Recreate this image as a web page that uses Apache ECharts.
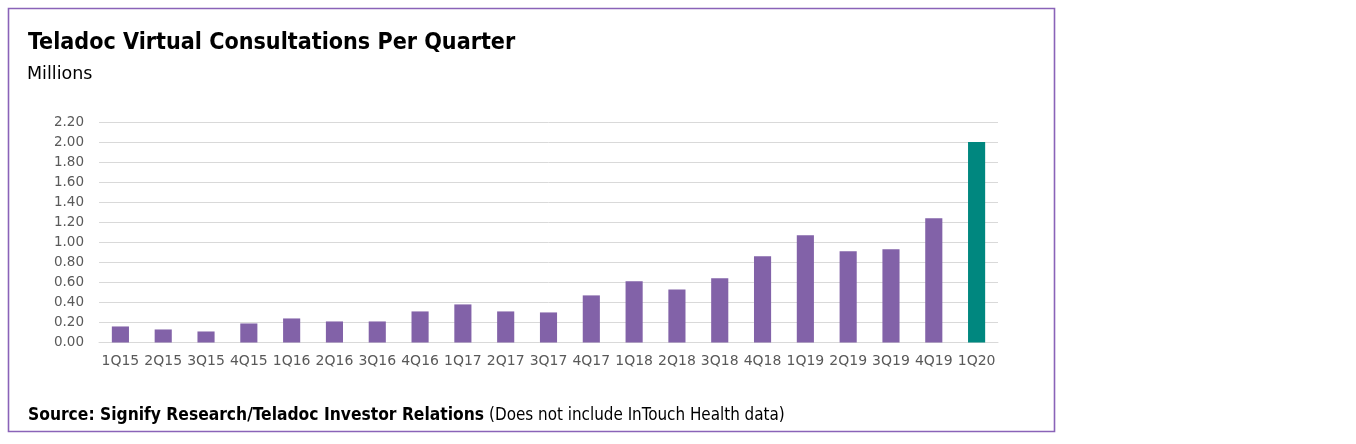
<!DOCTYPE html>
<html>
<head>
<meta charset="utf-8">
<script src="https://cdn.jsdelivr.net/npm/echarts@6/dist/echarts.min.js"></script>
<style>
html,body{margin:0;padding:0;background:#fff;}
#chart{width:1356px;height:444px;}
</style>
</head>
<body>
<div id="chart"></div>
<script>
const categories = ['1Q15','2Q15','3Q15','4Q15','1Q16','2Q16','3Q16','4Q16','1Q17','2Q17','3Q17','4Q17','1Q18','2Q18','3Q18','4Q18','1Q19','2Q19','3Q19','4Q19','1Q20'];
const consultations = [0.16,0.13,0.11,0.19,0.24,0.21,0.21,0.31,0.38,0.31,0.30,0.47,0.61,0.53,0.64,0.86,1.07,0.91,0.93,1.24,2.00];
const highlightCategory = '1Q20';
const titleText = 'Teladoc Virtual Consultations Per Quarter';
const unitText = 'Millions';
const sourceBold = 'Source: Signify Research/Teladoc Investor Relations';
const sourceNote = '(Does not include InTouch Health data)';

const PURPLE = '#8262a8';
const TEAL = '#00877f';

const chart = echarts.init(document.getElementById('chart'), null, {renderer:'canvas'});
chart.setOption({
  animation: false,
  backgroundColor: '#fff',
  title: [
    {text: titleText, left: 28, top: 31, padding: 0,
     textStyle: {fontFamily: 'DejaVu Sans Condensed', fontWeight: 'bold', fontSize: 23.1, color: '#000'}},
    {text: unitText, left: 27, top: 65, padding: 0,
     textStyle: {fontFamily: 'DejaVu Sans', fontWeight: 'normal', fontSize: 17.5, color: '#000'}},
    {text: '{b|' + sourceBold + '} {n|' + sourceNote + '}', left: 28, top: 407, padding: 0,
     textStyle: {rich: {
       b: {fontFamily: 'DejaVu Sans Condensed', fontWeight: 'bold', fontSize: 17.3, color: '#000'},
       n: {fontFamily: 'DejaVu Sans Condensed', fontWeight: 'normal', fontSize: 16.9, color: '#000'}
     }}}
  ],
  graphic: [{
    type: 'rect', shape: {x: 8.5, y: 8.5, width: 1046, height: 423},
    style: {fill: 'none', stroke: '#8a63b8', lineWidth: 1.6}, silent: true
  }],
  grid: {left: 99, right: 358, top: 122, bottom: 101.5},
  xAxis: {
    type: 'category', data: categories,
    axisLine: {show: true, lineStyle: {color: '#d9d9d9', width: 1}},
    axisTick: {show: false},
    axisLabel: {interval: 0, fontFamily: 'DejaVu Sans', fontSize: 14, color: '#595959', margin: 12}
  },
  yAxis: {
    type: 'value', min: 0, max: 2.2, interval: 0.2,
    axisLine: {show: false}, axisTick: {show: false},
    splitLine: {lineStyle: {color: '#d9d9d9', width: 1}},
    axisLabel: {fontFamily: 'DejaVu Sans', fontSize: 13.5, color: '#595959', margin: 15,
      formatter: v => v.toFixed(2)}
  },
  series: [{
    type: 'bar', barWidth: '40%',
    data: consultations.map((v, i) => ({
      value: v,
      itemStyle: {color: categories[i] === highlightCategory ? TEAL : PURPLE}
    }))
  }]
});
</script>
</body>
</html>
